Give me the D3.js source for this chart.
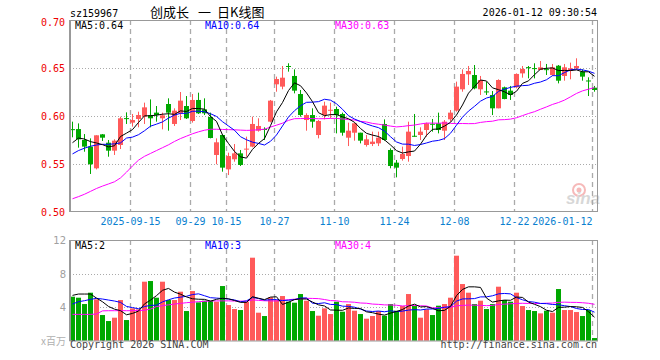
<!DOCTYPE html>
<html>
<head>
<meta charset="utf-8">
<script src="https://cdn.jsdelivr.net/npm/d3@7"></script>
<style>
  body { margin: 0; background: #fff; }
  text { font-family: "DejaVu Sans Mono", "Liberation Mono", monospace; font-size: 10px; }
</style>
</head>
<body>
<div id="kline"></div>
<script>
const dates = [
  "2025-09-01","2025-09-02","2025-09-03","2025-09-04","2025-09-05","2025-09-08","2025-09-09","2025-09-10","2025-09-11","2025-09-12",
  "2025-09-15","2025-09-16","2025-09-17","2025-09-18","2025-09-19","2025-09-22","2025-09-23","2025-09-24","2025-09-25","2025-09-26",
  "2025-09-29","2025-09-30","2025-10-09","2025-10-10","2025-10-13","2025-10-14","2025-10-15","2025-10-16","2025-10-17","2025-10-20",
  "2025-10-21","2025-10-22","2025-10-23","2025-10-24","2025-10-27","2025-10-28","2025-10-29","2025-10-30","2025-10-31","2025-11-03",
  "2025-11-04","2025-11-05","2025-11-06","2025-11-07","2025-11-10","2025-11-11","2025-11-12","2025-11-13","2025-11-14","2025-11-17",
  "2025-11-18","2025-11-19","2025-11-20","2025-11-21","2025-11-24","2025-11-25","2025-11-26","2025-11-27","2025-11-28","2025-12-01",
  "2025-12-02","2025-12-03","2025-12-04","2025-12-05","2025-12-08","2025-12-09","2025-12-10","2025-12-11","2025-12-12","2025-12-15",
  "2025-12-16","2025-12-17","2025-12-18","2025-12-19","2025-12-22","2025-12-23","2025-12-24","2025-12-25","2025-12-26","2025-12-29",
  "2025-12-30","2025-12-31","2026-01-05","2026-01-06","2026-01-07","2026-01-08","2026-01-09","2026-01-12"
]

const open = [
  0.5863,0.5864,0.5750,0.5681,0.5455,0.5809,0.5722,0.5639,0.5698,0.5978,
  0.5931,0.5969,0.5993,0.6010,0.6035,0.5976,0.6125,0.5917,0.6028,0.6104,
  0.5948,0.6167,0.6069,0.5990,0.5594,0.5802,0.5444,0.5549,0.5611,0.5656,
  0.5681,0.5847,0.5865,0.5941,0.6330,0.6306,0.6521,0.6417,0.6229,0.5958,
  0.6010,0.5802,0.6010,0.6062,0.6073,0.6021,0.5774,0.5826,0.5826,0.5698,
  0.5708,0.5715,0.5917,0.5646,0.5514,0.5552,0.5583,0.5794,0.5802,0.5854,
  0.5919,0.5924,0.5847,0.5965,0.6056,0.6278,0.6434,0.6427,0.6278,0.6256,
  0.6219,0.6080,0.6299,0.6264,0.6299,0.6444,0.6509,0.6499,0.6479,0.6488,
  0.6427,0.6524,0.6417,0.6472,0.6497,0.6462,0.6370,0.6295
]
const high = [
  0.5941,0.5923,0.5812,0.5767,0.5799,0.5812,0.5750,0.5757,0.5993,0.6038,
  0.6021,0.6045,0.6139,0.6173,0.6104,0.6035,0.6184,0.6080,0.6250,0.6208,
  0.6229,0.6243,0.6184,0.6035,0.5767,0.5809,0.5618,0.5708,0.5646,0.5785,
  0.5993,0.5976,0.5882,0.6167,0.6410,0.6521,0.6549,0.6486,0.6271,0.6028,
  0.6080,0.5958,0.6149,0.6139,0.6097,0.6035,0.5931,0.5931,0.5826,0.5802,
  0.5837,0.5837,0.5965,0.5663,0.5542,0.5681,0.5941,0.6021,0.5882,0.5931,
  0.5969,0.6035,0.5958,0.6062,0.6358,0.6486,0.6521,0.6531,0.6417,0.6358,
  0.6260,0.6382,0.6306,0.6313,0.6444,0.6521,0.6521,0.6549,0.6573,0.6542,
  0.6542,0.6531,0.6542,0.6556,0.6601,0.6486,0.6403,0.6313
]
const low = [
  0.5778,0.5670,0.5628,0.5396,0.5444,0.5740,0.5576,0.5594,0.5656,0.5917,
  0.5889,0.5882,0.5917,0.5882,0.5941,0.5861,0.5847,0.5896,0.5958,0.5969,
  0.5931,0.6021,0.6010,0.5767,0.5497,0.5420,0.5385,0.5524,0.5479,0.5576,
  0.5674,0.5837,0.5750,0.5934,0.6253,0.6278,0.6462,0.6236,0.5993,0.5847,
  0.5878,0.5767,0.5965,0.5976,0.5819,0.5795,0.5687,0.5743,0.5715,0.5681,
  0.5687,0.5687,0.5743,0.5455,0.5361,0.5535,0.5524,0.5785,0.5750,0.5785,
  0.5837,0.5819,0.5750,0.5941,0.6045,0.6253,0.6323,0.6278,0.6219,0.6219,
  0.6010,0.6080,0.6174,0.6167,0.6288,0.6399,0.6392,0.6392,0.6479,0.6427,
  0.6417,0.6340,0.6368,0.6382,0.6486,0.6368,0.6208,0.6253
]
const close = [
  0.5861,0.5757,0.5681,0.5497,0.5799,0.5774,0.5639,0.5743,0.5976,0.5976,
  0.5958,0.6010,0.6090,0.5976,0.6010,0.6007,0.6035,0.6056,0.6160,0.5976,
  0.6167,0.6028,0.6028,0.5771,0.5726,0.5462,0.5583,0.5611,0.5490,0.5660,
  0.5917,0.5896,0.5861,0.6160,0.6385,0.6399,0.6519,0.6264,0.6010,0.6010,
  0.5941,0.5948,0.6108,0.6065,0.6010,0.5826,0.5847,0.5924,0.5743,0.5757,
  0.5733,0.5774,0.5750,0.5479,0.5462,0.5604,0.5837,0.5792,0.5837,0.5924,
  0.5917,0.5854,0.5941,0.6035,0.6306,0.6438,0.6469,0.6288,0.6375,0.6253,
  0.6080,0.6375,0.6177,0.6219,0.6438,0.6490,0.6507,0.6497,0.6507,0.6486,
  0.6507,0.6368,0.6507,0.6497,0.6521,0.6410,0.6368,0.6271
]
// volume, millions
const volume = [
  5.28,5.16,4.40,5.76,4.96,3.08,2.36,2.76,4.88,2.48,
  3.88,3.76,7.08,7.16,5.16,7.08,4.88,4.88,5.88,3.56,
  5.96,4.60,4.80,4.80,4.68,6.56,4.28,3.80,3.68,4.68,
  9.96,3.36,2.96,5.20,4.88,5.36,4.68,4.56,5.60,4.80,
  3.56,3.00,3.88,3.20,4.68,3.48,4.40,3.60,3.20,2.64,
  2.96,3.56,3.00,4.40,3.60,4.16,5.60,4.16,2.76,3.76,
  3.08,4.20,4.40,5.16,10.20,6.80,5.76,4.40,4.80,3.80,
  4.40,6.48,4.88,4.68,5.76,4.16,3.68,3.56,3.28,3.60,
  3.36,6.20,3.68,3.68,3.44,2.96,3.68,0.32
]

// moving average values before enough days are shown (they use earlier sessions)
const ma5Lead = [0.5722, 0.5770, 0.5760, 0.5733]
const ma10Lead = [0.5605, 0.5640, 0.5665, 0.5685, 0.5698, 0.5705, 0.5705, 0.5710, 0.5720]
const ma30Lead = [0.5138,0.5160,0.5185,0.5215,0.5245,0.5270,0.5292,0.5315,0.5355,0.5415,
  0.5480,0.5540,0.5580,0.5610,0.5640,0.5670,0.5700,0.5735,0.5765,0.5790,
  0.5815,0.5835,0.5852,0.5862,0.5862,0.5860,0.5858,0.5856,0.5853]
const vma5Lead = [5.44, 5.60, 5.60, 5.60]
const vma10Lead = [4.40, 4.68, 4.80, 4.96, 5.08, 5.00, 4.88, 4.76, 4.60]
const vma30Lead = [3.16,3.16,3.16,3.16,3.20,3.58,3.60,3.60,3.60,3.60,
  3.60,3.62,3.65,3.80,4.10,4.20,4.30,4.40,4.48,4.56,
  4.62,4.68,4.72,4.76,4.78,4.78,4.78,4.76,4.75]

const tickDates = ["2025-09-15","2025-09-29","2025-10-15","2025-10-27","2025-11-10","2025-11-24","2025-12-08","2025-12-22","2026-01-12"]
const tickLabels = ["2025-09-15","09-29","10-15","10-27","11-10","11-24","12-08","12-22","2026-01-12"]
const priceTicks = [0.50, 0.55, 0.60, 0.65, 0.70]
const volTicks = [4, 8, 12]
const titleParts = ["创成长", "一", "日K线图"]

const width = 660
const height = 360
const left = 70, right = 598
const red = "#ff5a5a", green = "#00a800"

function movingAvg(values, n, lead) {
  return values.map((v, i) => {
    if (i < n - 1) return lead[i]
    return d3.mean(values.slice(i - n + 1, i + 1))
  })
}

const ma5 = movingAvg(close, 5, ma5Lead)
const ma10 = movingAvg(close, 10, ma10Lead)
const ma30 = movingAvg(close, 30, ma30Lead)
const vma5 = movingAvg(volume, 5, vma5Lead)
const vma10 = movingAvg(volume, 10, vma10Lead)
const vma30 = movingAvg(volume, 30, vma30Lead)

const x = d3.scaleBand().domain(dates).range([left, right]).padding(0)
const yPrice = d3.scaleLinear().domain([0.5, 0.7]).range([212, 20])
const yVol = d3.scaleLinear().domain([0, 12]).range([340.7, 240.7])

const svg = d3.select('#kline').append('svg')
  .attr('width', width)
  .attr('height', height)

svg.append('defs').append('clipPath').attr('id', 'clipPrice')
  .append('rect').attr('x', left).attr('y', 20).attr('width', right - left).attr('height', 192)
svg.select('defs').append('clipPath').attr('id', 'clipVol')
  .append('rect').attr('x', left).attr('y', 240).attr('width', right - left).attr('height', 101)

const up = i => close[i] >= open[i]

// header texts
svg.append('text').attr('x', 70).attr('y', 17).attr('fill', '#000').text('sz159967')
svg.selectAll('.title')
  .data(titleParts)
  .enter().append('text')
  .attr('x', (d, i) => [150, 198, 217][i])
  .attr('y', 17)
  .style('font-family', '"Noto Sans CJK SC", sans-serif').style('font-size', '13px')
  .text(d => d)
svg.append('text').attr('x', 597).attr('y', 16).attr('text-anchor', 'end').text('2026-01-12 09:30:54')

// watermark
const logo = svg.append('g').attr('opacity', 0.55)
logo.append('circle').attr('cx', 579).attr('cy', 190).attr('r', 6).attr('fill', 'none').attr('stroke', '#f08080').attr('stroke-width', 2)
logo.append('circle').attr('cx', 579).attr('cy', 190).attr('r', 2.5).attr('fill', '#f08080')
logo.append('text').attr('x', 566).attr('y', 204)
  .style('font-family', '"Liberation Sans", sans-serif').style('font-size', '17px')
  .style('font-style', 'italic').style('font-weight', 'bold')
  .attr('fill', '#b8b8b8').text('sina')

function drawPanel(y, top, bottom, ticks) {
  const g = svg.append('g')
  g.selectAll('.hgrid')
    .data(ticks.filter(t => y(t) > top + 1 && y(t) < bottom - 1))
    .enter().append('line')
    .attr('x1', left).attr('x2', right)
    .attr('y1', d => Math.round(y(d)) + 0.5).attr('y2', d => Math.round(y(d)) + 0.5)
    .attr('stroke', '#aaa').attr('stroke-dasharray', '1,2')
  g.selectAll('.vgrid')
    .data(tickDates)
    .enter().append('line')
    .attr('x1', d => x(d) + 0.5).attr('x2', d => x(d) + 0.5)
    .attr('y1', top).attr('y2', bottom)
    .attr('stroke', '#aaa').attr('stroke-width', 1.3).attr('stroke-dasharray', '5,4')
  return g
}

// price panel
drawPanel(yPrice, 20, 212, priceTicks)

const candles = svg.append('g').attr('clip-path', 'url(#clipPrice)')
candles.selectAll('.wick')
  .data(dates)
  .enter().append('line')
  .attr('x1', d => x(d) + 2.5).attr('x2', d => x(d) + 2.5)
  .attr('y1', (d, i) => yPrice(high[i])).attr('y2', (d, i) => yPrice(low[i]))
  .attr('stroke', (d, i) => up(i) ? red : green)
candles.selectAll('.body')
  .data(dates)
  .enter().append('rect')
  .attr('x', d => x(d))
  .attr('width', 5)
  .attr('y', (d, i) => yPrice(Math.max(open[i], close[i])))
  .attr('height', (d, i) => Math.max(1, Math.abs(yPrice(open[i]) - yPrice(close[i]))))
  .attr('fill', (d, i) => up(i) ? red : green)

const priceLine = d3.line().x((d, i) => x(dates[i]) + 2.5).y(d => yPrice(d))
const maGroup = svg.append('g').attr('clip-path', 'url(#clipPrice)').attr('fill', 'none')
maGroup.append('path').attr('d', priceLine(ma30)).attr('stroke', '#ff00ff')
maGroup.append('path').attr('d', priceLine(ma10)).attr('stroke', '#0000ff')
maGroup.append('path').attr('d', priceLine(ma5)).attr('stroke', '#000')

svg.append('rect').attr('x', 70).attr('y', 20.5).attr('width', right - 70 - 0.5).attr('height', 191)
  .attr('fill', 'none').attr('stroke', '#999')
svg.append('line').attr('x1', 70).attr('x2', 70).attr('y1', 20).attr('y2', 212).attr('stroke', '#999').attr('stroke-width', 2)

svg.selectAll('.plabel')
  .data(priceTicks)
  .enter().append('text')
  .attr('x', 65).attr('y', d => Math.max(yPrice(d), 22))
  .attr('dy', '0.35em').attr('text-anchor', 'end')
  .attr('fill', '#ee0000').text(d => d.toFixed(2))

svg.selectAll('.dlabel')
  .data(tickDates)
  .enter().append('text')
  .attr('x', d => x(d) + 0.5)
  .attr('y', 225)
  .attr('text-anchor', (d, i) => (x(d) + tickLabels[i].length * 3 > right) ? 'end' : 'middle')
  .attr('fill', '#0a7fd0')
  .text((d, i) => tickLabels[i])

svg.append('text').attr('x', 75).attr('y', 29).attr('fill', '#000').text('MA5:' + ma5[ma5.length - 1].toFixed(2))
svg.append('text').attr('x', 205).attr('y', 29).attr('fill', '#0000ff').text('MA10:' + ma10[ma10.length - 1].toFixed(2))
svg.append('text').attr('x', 335).attr('y', 29).attr('fill', '#ff00ff').text('MA30:' + ma30[ma30.length - 1].toFixed(2))

// volume panel
drawPanel(yVol, 240, 341, volTicks)

svg.append('g').attr('clip-path', 'url(#clipVol)')
  .selectAll('.vbar')
  .data(dates)
  .enter().append('rect')
  .attr('x', d => x(d))
  .attr('width', 5)
  .attr('y', (d, i) => yVol(volume[i]))
  .attr('height', (d, i) => yVol(0) - yVol(volume[i]))
  .attr('fill', (d, i) => up(i) ? red : green)

const volLine = d3.line().x((d, i) => x(dates[i]) + 2.5).y(d => yVol(d))
const vmaGroup = svg.append('g').attr('clip-path', 'url(#clipVol)').attr('fill', 'none')
vmaGroup.append('path').attr('d', volLine(vma30)).attr('stroke', '#ff00ff')
vmaGroup.append('path').attr('d', volLine(vma10)).attr('stroke', '#0000ff')
vmaGroup.append('path').attr('d', volLine(vma5)).attr('stroke', '#000')

svg.append('rect').attr('x', 70).attr('y', 240.5).attr('width', right - 70 - 0.5).attr('height', 100.5)
  .attr('fill', 'none').attr('stroke', '#999')
svg.append('line').attr('x1', 70).attr('x2', 70).attr('y1', 240).attr('y2', 341).attr('stroke', '#999').attr('stroke-width', 2)

svg.selectAll('.vlabel')
  .data(volTicks)
  .enter().append('text')
  .attr('x', 66).attr('y', d => yVol(d))
  .attr('dy', '0.35em').attr('text-anchor', 'end')
  .style('font-family', '"DejaVu Sans", sans-serif')
  .attr('fill', '#a0a0a0').text(d => d)
svg.append('text').attr('x', 66).attr('y', 345).attr('text-anchor', 'end')
  .style('font-family', '"Noto Sans CJK SC", sans-serif').attr('fill', '#b0b0b0').text('x百万')

svg.append('text').attr('x', 75).attr('y', 249).attr('fill', '#000').text('MA5:' + Math.floor(vma5[vma5.length - 1]))
svg.append('text').attr('x', 205).attr('y', 249).attr('fill', '#0000ff').text('MA10:' + Math.floor(vma10[vma10.length - 1]))
svg.append('text').attr('x', 335).attr('y', 249).attr('fill', '#ff00ff').text('MA30:' + Math.floor(vma30[vma30.length - 1]))

svg.append('text').attr('x', 70).attr('y', 348).attr('fill', '#444').text('Copyright 2026 SINA.COM')
svg.append('text').attr('x', 597).attr('y', 348).attr('text-anchor', 'end').attr('fill', '#444').text('http://finance.sina.com.cn')
</script>
</body>
</html>
